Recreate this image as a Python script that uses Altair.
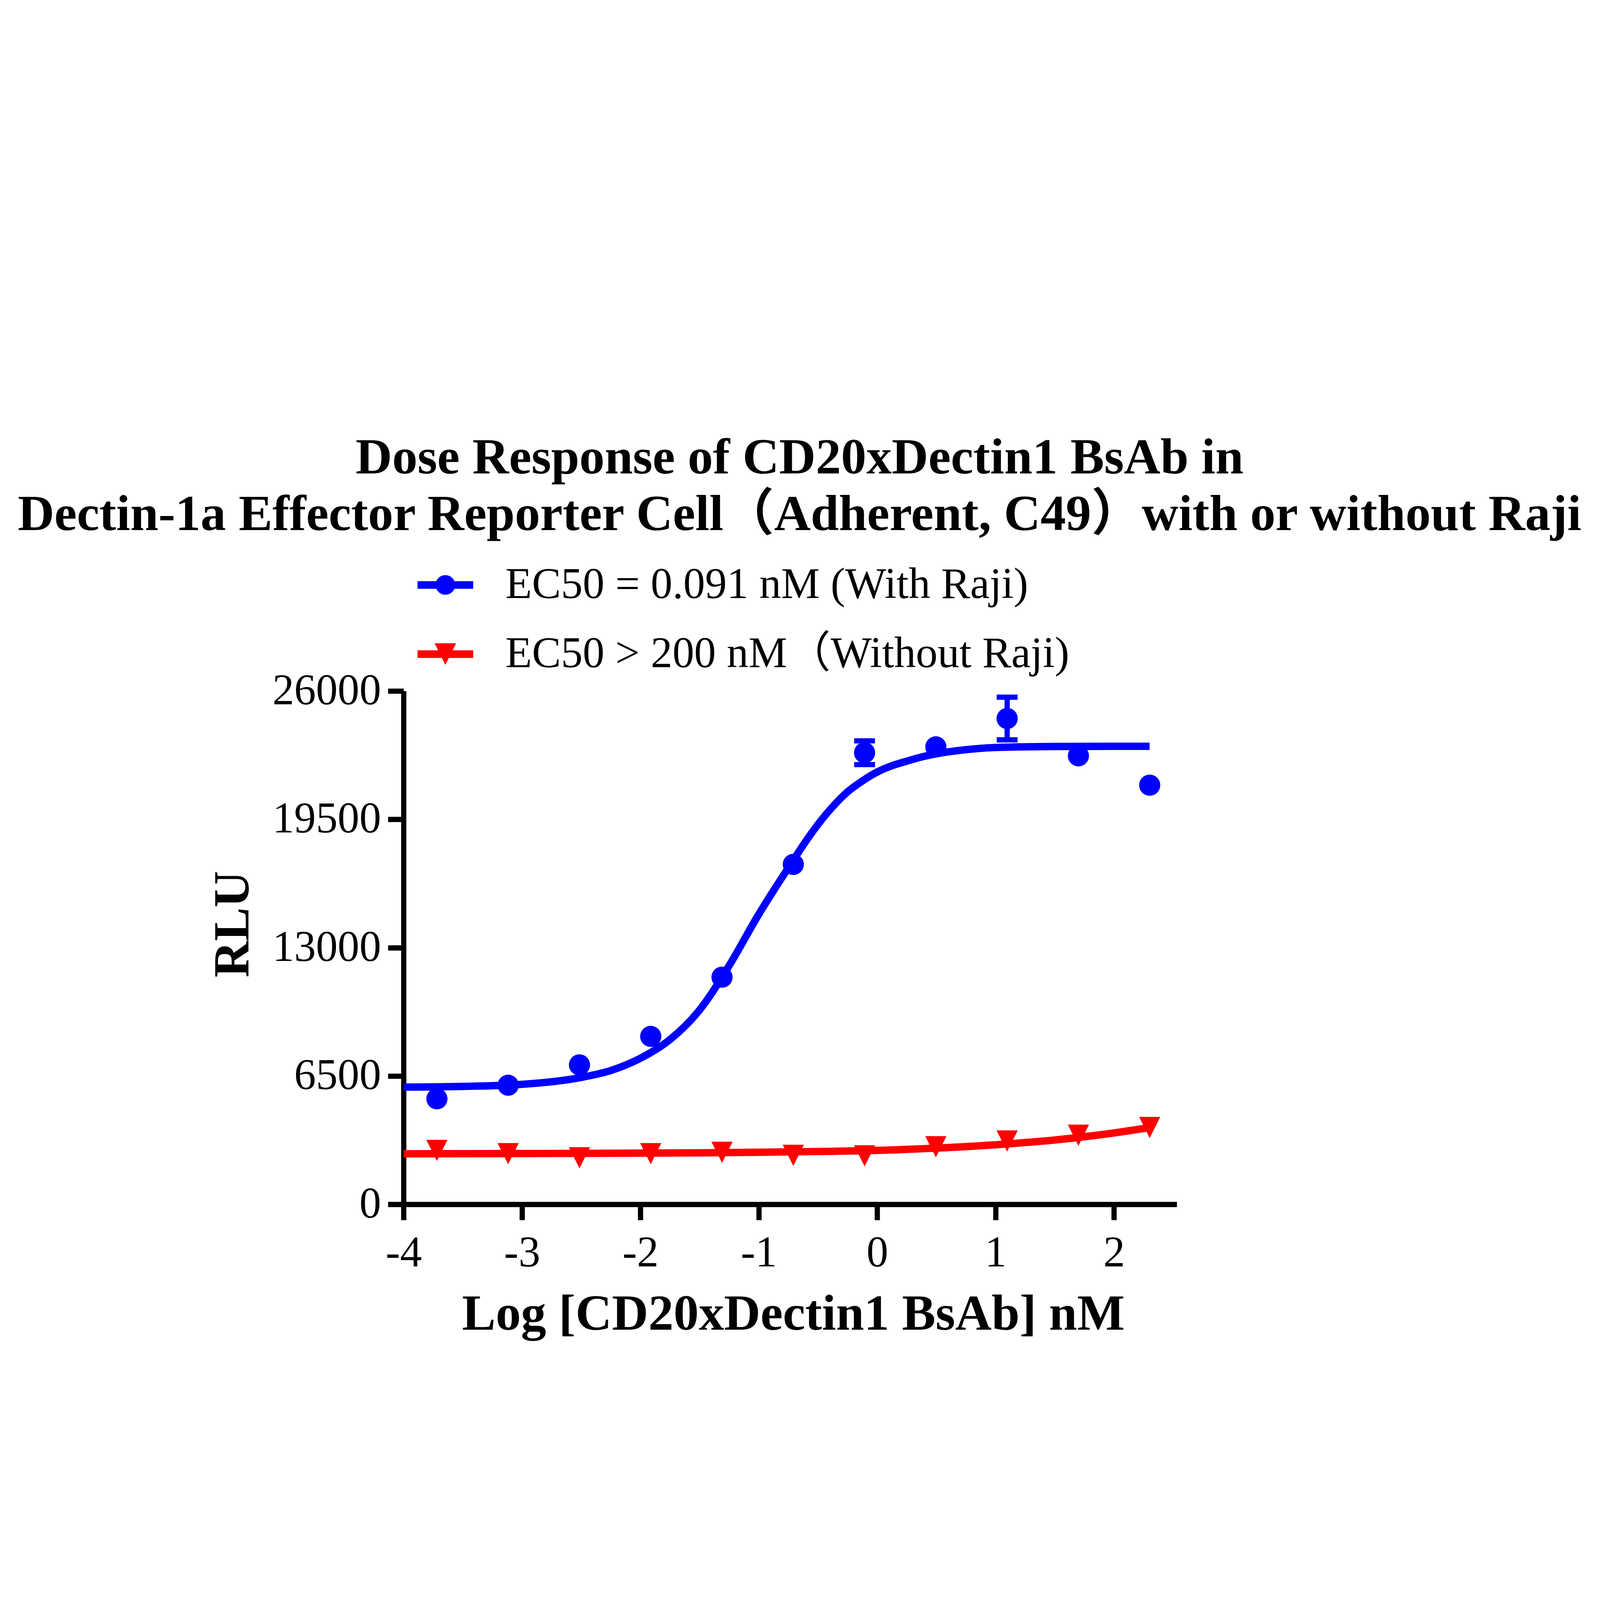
import altair as alt
import pandas as pd

# ---- data ----
series_names = ["EC50 = 0.091 nM (With Raji)", "EC50 > 200 nM（Without Raji)"]
series_colors = ["#0000FF", "#FF0000"]

log_dose = [-3.719, -3.117, -2.515, -1.913, -1.311, -0.709, -0.107, 0.495, 1.097, 1.699, 2.301]
rlu_with = [5347, 6035, 7064, 8508, 11509, 17220, 22875, 23172, 24609, 22720, 21233]
sd_with = [0, 0, 0, 0, 0, 0, 600, 0, 1080, 0, 0]
rlu_without = [2731, 2570, 2360, 2570, 2640, 2484, 2460, 2922, 3210, 3502, 3893]

# fitted curves
fit_x_with = [-4.0, -3.5, -3.0, -2.5, -2.25, -2.0, -1.75, -1.5, -1.25, -1.0, -0.875, -0.75,
              -0.625, -0.5, -0.375, -0.25, -0.125, 0.0, 0.125, 0.25, 0.375, 0.5, 0.75, 1.0,
              1.5, 2.0, 2.3]
fit_with = [5940, 5975, 6080, 6430, 6780, 7400, 8350, 9850, 12100, 14700, 15900, 17050,
            18200, 19250, 20150, 20900, 21450, 21900, 22220, 22450, 22660, 22820, 23030, 23140,
            23190, 23200, 23200]
fit_x_without = [-4.0, -3.0, -2.0, -1.5, -1.0, -0.5, 0.0, 0.5, 1.0, 1.5, 2.0, 2.3]
fit_without = [2560, 2575, 2595, 2612, 2640, 2678, 2735, 2850, 3020, 3260, 3620, 3890]

x_ticks = [-4, -3, -2, -1, 0, 1, 2]
y_ticks = [0, 6500, 13000, 19500, 26000]

title_lines = ["Dose Response of CD20xDectin1 BsAb in",
               "Dectin-1a Effector Reporter Cell（Adherent, C49）with or without Raji"]
x_title = "Log [CD20xDectin1 BsAb] nM"
y_title = "RLU"

# ---- tables ----
pts = pd.DataFrame(
    {"x": log_dose + log_dose,
     "y": rlu_with + rlu_without,
     "series": [series_names[0]] * len(log_dose) + [series_names[1]] * len(log_dose)}
)
fit = pd.DataFrame(
    {"x": fit_x_with + fit_x_without,
     "y": fit_with + fit_without,
     "series": [series_names[0]] * len(fit_x_with) + [series_names[1]] * len(fit_x_without)}
)
err = pd.DataFrame(
    {"x": [x for x, s in zip(log_dose, sd_with) if s > 0],
     "lo": [m - s for m, s in zip(rlu_with, sd_with) if s > 0],
     "hi": [m + s for m, s in zip(rlu_with, sd_with) if s > 0]}
)

FONT = "'Liberation Serif', 'Noto Sans CJK SC', serif"

W, H = 3556, 2361
PAD_L, PAD_T = 1842, 1366
PAD_R = 7346 - 16 - PAD_L - W
PAD_B = 4530 - 16 - PAD_T - H

xscale = alt.Scale(domain=[-4, 2.53], nice=False, zero=False)
yscale = alt.Scale(domain=[0, 26000], nice=False)
color_scale = alt.Scale(domain=series_names, range=series_colors)
point_shapes = alt.Scale(domain=series_names, range=["circle", "M-1,-1L1,-1L0,1Z"])
circle_leg = "M-1,-0.137H1V0.137H-1Z M-0.352,0A0.352,0.352 0 1,1 0.352,0A0.352,0.352 0 1,1 -0.352,0Z"
tri_leg = "M-1,-0.137H1V0.137H-1Z M-0.387,-0.387L0.387,-0.387L0,0.387Z"
legend_shapes = alt.Scale(domain=series_names, range=[circle_leg, tri_leg])

neg_label = "datum.value < 0 ? '-' + abs(datum.value) : '' + datum.value"

x_axis = alt.Axis(values=x_ticks, title=x_title, labelExpr=neg_label, grid=False,
                  labelFlush=False, labelOverlap=False, labelPadding=54,
                  titleX=1792, titleY=576, titleBaseline="alphabetic", titleAlign="center")
y_axis = alt.Axis(values=y_ticks, title=y_title, format="d", grid=False,
                  labelFlush=False, labelOverlap=False, labelPadding=32,
                  titleX=-714, titleY=1072, titleBaseline="alphabetic", titleAlign="center",
                  titleAngle=270)

legend = alt.Legend(
    title=None, orient="none", legendX=64, legendY=-616, padding=0,
    symbolSize=65536, labelOffset=148, rowPadding=90, symbolStrokeWidth=0,
    symbolOpacity=1,
    labelFont=FONT, labelFontSize=200, labelColor="black", labelLimit=0,
)

lines = alt.Chart(fit).mark_line(strokeWidth=34, interpolate="monotone").encode(
    x=alt.X("x:Q", scale=xscale, axis=x_axis),
    y=alt.Y("y:Q", scale=yscale, axis=y_axis),
    color=alt.Color("series:N", scale=color_scale, legend=None),
    detail="series:N",
)

rules = alt.Chart(err).mark_rule(strokeWidth=24, color="#0000FF").encode(
    x=alt.X("x:Q", scale=xscale), y=alt.Y("lo:Q", scale=yscale), y2="hi:Q"
)
caps_lo = alt.Chart(err).mark_tick(orient="horizontal", size=96, thickness=24, color="#0000FF", opacity=1).encode(
    x=alt.X("x:Q", scale=xscale), y=alt.Y("lo:Q", scale=yscale)
)
caps_hi = alt.Chart(err).mark_tick(orient="horizontal", size=96, thickness=24, color="#0000FF", opacity=1).encode(
    x=alt.X("x:Q", scale=xscale), y=alt.Y("hi:Q", scale=yscale)
)

points = alt.Chart(pts).mark_point(filled=True, size=9500, opacity=1, strokeWidth=0).encode(
    x=alt.X("x:Q", scale=xscale),
    y=alt.Y("y:Q", scale=yscale),
    color=alt.Color("series:N", scale=color_scale, legend=None),
    shape=alt.Shape("series:N", scale=point_shapes, legend=None),
)

# legend-only layer: no rows survive the filter, the legend comes from the scale domain
legend_layer = alt.Chart(pts).transform_filter("false").mark_point(filled=True, opacity=1, strokeWidth=0).encode(
    x=alt.X("x:Q", scale=xscale),
    y=alt.Y("y:Q", scale=yscale),
    color=alt.Color("series:N", scale=color_scale, legend=legend),
    shape=alt.Shape("series:N", scale=legend_shapes, legend=legend),
)

chart = alt.layer(rules, caps_lo, caps_hi, points, lines, legend_layer).resolve_scale(
    shape="independent", color="independent"
).properties(
    width=W, height=H,
    autosize=alt.AutoSizeParams(type="none"),
    padding={"left": PAD_L, "top": PAD_T, "right": PAD_R, "bottom": PAD_B},
    title=alt.TitleParams(text=title_lines, font=FONT, fontSize=233, fontWeight="bold",
                          lineHeight=260, anchor="middle", dx=43, offset=75, color="black"),
).configure(background="white").configure_view(stroke=None).configure_axis(
    labelFont=FONT, labelFontSize=200, labelColor="black", labelLimit=0,
    titleFont=FONT, titleFontSize=232, titleFontWeight="bold", titleColor="black",
    domainColor="black", domainWidth=24, tickColor="black", tickWidth=24, tickSize=72,
    domainCap="butt", tickCap="butt",
)

chart.save("out.html", embed_options={"renderer": "svg", "actions": False})
